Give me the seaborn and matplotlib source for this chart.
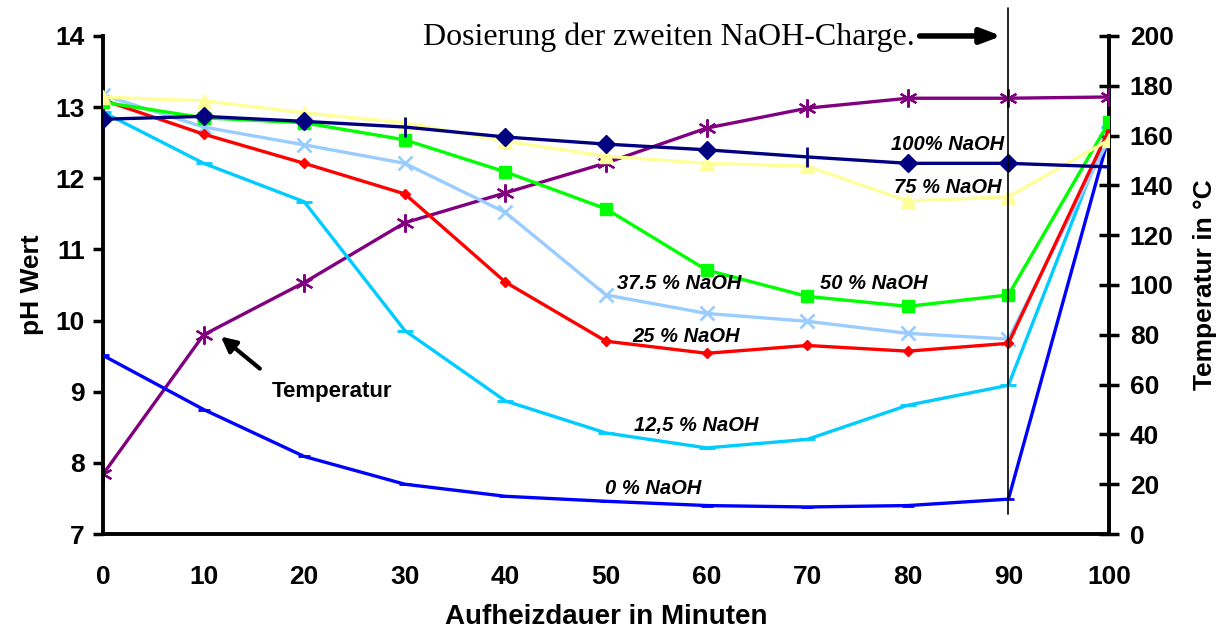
import numpy as np
import pandas as pd
import matplotlib
matplotlib.use("Agg")
import matplotlib.pyplot as plt
import seaborn as sns

# Heating time in minutes
minutes = [0, 10, 20, 30, 40, 50, 60, 70, 80, 90, 100]

# pH values per NaOH dosage
ph_100 = [12.83, 12.87, 12.80, 12.72, 12.58, 12.48, 12.40, 12.30, 12.21, 12.21, 12.16]
ph_75 = [13.14, 13.09, 12.92, 12.78, 12.52, 12.31, 12.21, 12.17, 11.68, 11.74, 12.54]
ph_50 = [13.07, 12.85, 12.78, 12.54, 12.09, 11.57, 10.71, 10.34, 10.20, 10.36, 12.79]
ph_37_5 = [13.17, 12.72, 12.47, 12.21, 11.52, 10.36, 10.10, 9.99, 9.82, 9.74, 12.55]
ph_25 = [13.10, 12.62, 12.21, 11.78, 10.54, 9.71, 9.54, 9.65, 9.57, 9.68, 12.68]
ph_12_5 = [12.93, 12.21, 11.67, 9.86, 8.87, 8.42, 8.21, 8.33, 8.81, 9.09, 12.72]
ph_0 = [9.51, 8.75, 8.09, 7.70, 7.53, 7.46, 7.40, 7.38, 7.40, 7.49, 12.60]

# Temperature in °C
temperature = [24, 80, 101, 125, 137, 149, 163, 171, 175, 175, 175.5]

sns.set_style("white")
plt.rcParams["font.family"] = ["Liberation Sans", "DejaVu Sans"]
plt.rcParams.update({"text.color": "black", "axes.labelcolor": "black",
                     "xtick.color": "black", "ytick.color": "black"})

fig = plt.figure(figsize=(12.28, 6.39), dpi=100)
ax = fig.add_axes([0.0839, 0.1643, 0.8192, 0.7794])
ax2 = ax.twinx()

lw = 2.4
series = [
    (ph_0, "#0000FF", "_", 9, None),
    (ph_12_5, "#00CCFF", "_", 11, None),
    (ph_37_5, "#99CCFF", "x", 10, None),
    (ph_25, "#FF0000", "D", 5, None),
    (ph_50, "#00FF00", "s", 8, None),
    (ph_75, "#FFFF99", "^", 10, None),
    (ph_100, "#000080", "D", 9, [0, 1, 2, 4, 5, 6, 8, 9]),
]

for vals, color, marker, ms, every in series:
    df = pd.DataFrame({"t": minutes, "ph": vals})
    sns.lineplot(data=df, x="t", y="ph", ax=ax, color=color, linewidth=lw,
                 marker=marker, markersize=ms, markeredgecolor=color,
                 markeredgewidth=2 if marker in ("x", "_") else 1,
                 markevery=every, zorder=3)

# Vertical tick marks on the 100 % series where the diamond is missing
ax.plot([minutes[3], minutes[7]], [ph_100[3], ph_100[7]], linestyle="none",
        marker="|", markersize=14, markeredgewidth=2, color="#000080", zorder=4)

df_t = pd.DataFrame({"t": minutes, "temp": temperature})
sns.lineplot(data=df_t, x="t", y="temp", ax=ax2, color="#800080", linewidth=lw,
             marker=(6, 2, 0), markersize=13, markeredgewidth=1.6,
             markeredgecolor="#800080", zorder=3)

ax.set_xlim(0, 100)
ax.set_ylim(7, 14)
ax2.set_ylim(0, 200)
ax.set_xticks(range(0, 101, 10))
ax.set_yticks(range(7, 15))
ax2.set_yticks(range(0, 201, 20))

for a in (ax, ax2):
    a.spines["top"].set_visible(False)
    for s in a.spines.values():
        s.set_linewidth(2.8)
        s.set_color("black")
ax.spines["right"].set_visible(False)
ax2.spines["left"].set_visible(False)
ax2.spines["bottom"].set_visible(False)

ax.tick_params(axis="x", direction="out", length=7, width=2.5, labelsize=19, pad=15, color="black")
ax.tick_params(axis="y", direction="out", length=7, width=2.5, labelsize=19, pad=6, color="black")
ax2.tick_params(axis="y", direction="inout", length=14, width=2.5, labelsize=19, pad=8, color="black")
for lab in ax.get_xticklabels() + ax.get_yticklabels() + ax2.get_yticklabels():
    lab.set_fontweight("bold")

ax.set_xlabel("Aufheizdauer in Minuten", fontsize=20, fontweight="bold", labelpad=11)
ax.set_ylabel("pH Wert", fontsize=19, fontweight="bold", labelpad=8)
ax2.set_ylabel("Temperatur in °C", fontsize=19, fontweight="bold", labelpad=14)

# Dosing marker at 90 minutes
ax.axvline(90, ymin=0.04, ymax=1.056, color="black", linewidth=1.2, clip_on=False, zorder=5)
ax.annotate("", xy=(89.6, 14.0), xytext=(80.9, 14.0),
            arrowprops=dict(arrowstyle="-|>,head_length=1.2,head_width=0.45",
                            color="black", lw=4), annotation_clip=False)
ax.text(80.7, 13.98, "Dosierung der zweiten NaOH-Charge.", ha="right", va="center",
        fontsize=23, family=["Liberation Serif", "DejaVu Serif"], clip_on=False)

lab_font = dict(fontsize=14.5, fontweight="bold", fontstyle="italic", ha="center", va="center")
ax.text(84.0, 12.48, "100% NaOH", **lab_font)
ax.text(84.0, 11.87, "75 % NaOH", **lab_font)
ax.text(57.3, 10.52, "37.5 % NaOH", **lab_font)
ax.text(76.6, 10.52, "50 % NaOH", **lab_font)
ax.text(58.0, 9.77, "25 % NaOH", **lab_font)
ax.text(59.0, 8.52, "12,5 % NaOH", **lab_font)
ax.text(54.7, 7.64, "0 % NaOH", **lab_font)

ax.text(22.8, 9.0, "Temperatur", fontsize=16, fontweight="bold", ha="center", va="center")
ax.annotate("", xy=(11.5, 9.8), xytext=(15.8, 9.3),
            arrowprops=dict(arrowstyle="-|>,head_length=0.9,head_width=0.45",
                            color="black", lw=3))

ax.set_zorder(ax2.get_zorder() + 1)
ax.patch.set_visible(False)

fig.savefig("out.png", dpi=100)
